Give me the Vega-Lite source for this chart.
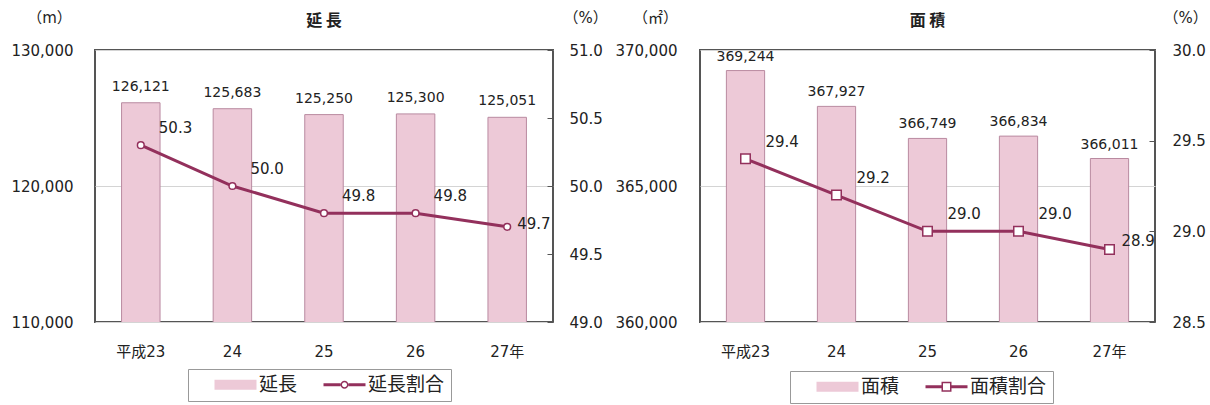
{
  "$schema": "https://vega.github.io/schema/vega-lite/v6.json",
  "padding": {"left": 9, "top": 9, "right": 0, "bottom": 0},
  "spacing": 147,
  "bounds": "flush",
  "datasets": {
    "enchou": [
      {"year": "平成23", "value": 126121, "pct": 50.3},
      {"year": "24", "value": 125683, "pct": 50.0},
      {"year": "25", "value": 125250, "pct": 49.8},
      {"year": "26", "value": 125300, "pct": 49.8},
      {"year": "27年", "value": 125051, "pct": 49.7}
    ],
    "menseki": [
      {"year": "平成23", "value": 369244, "pct": 29.4},
      {"year": "24", "value": 367927, "pct": 29.2},
      {"year": "25", "value": 366749, "pct": 29.0},
      {"year": "26", "value": 366834, "pct": 29.0},
      {"year": "27年", "value": 366011, "pct": 28.9}
    ]
  },
  "config": {
    "font": "DejaVu Sans, Noto Sans CJK JP",
    "view": {"stroke": "#555555", "strokeWidth": 2},
    "axis": {"labelColor": "#222222", "titleColor": "#222222", "labelFontSize": 15, "titleFontSize": 15, "titleFontWeight": "normal"},
    "text": {"color": "#222222"}
  },
  "resolve": {"scale": {"color": "independent", "shape": "independent"}, "legend": {"color": "independent", "shape": "independent"}},
  "hconcat": [
    {
      "width": 458,
      "height": 272,
      "data": {"name": "enchou"},
      "title": {"text": "延 長", "fontSize": 16, "fontWeight": "bold", "anchor": "middle", "frame": "group", "offset": -19, "font": "Noto Sans CJK JP", "color": "#222222"},
      "encoding": {
        "x": {"field": "year", "type": "ordinal", "sort": null,
              "scale": {"paddingInner": 0.58, "paddingOuter": 0.29},
              "axis": {"title": null, "domain": false, "ticks": false, "labelAngle": 0, "labelPadding": 22, "labelFontSize": 15}}
      },
      "layer": [
        {
          "layer": [
            {
              "mark": {"type": "bar", "stroke": "#b98aa0", "strokeWidth": 1, "clip": true},
              "encoding": {
                "y": {"field": "value", "type": "quantitative",
                      "scale": {"domain": [110000, 130000], "zero": false, "nice": false},
                      "axis": {"title": "（m）", "titleAngle": 0, "titleX": -46, "titleY": -33, "titleAlign": "center", "titleBaseline": "middle",
                               "values": [110000, 120000, 130000], "format": ",.0f", "grid": true, "gridColor": "#d4d4d4",
                               "domain": false, "ticks": false, "labelPadding": 22}},
                "color": {"datum": "延長",
                          "scale": {"domain": ["延長", "延長割合"], "range": ["#edc9d7", "#93305c"]},
                          "legend": {"title": null, "orient": "none", "legendX": 93, "legendY": 319, "direction": "horizontal",
                                     "padding": 6, "strokeColor": "#999999", "fillColor": "#ffffff",
                                     "symbolSize": 100, "symbolOpacity": 1, "symbolStrokeWidth": 0, "labelOffset": 46, "columnPadding": 5,
                                     "labelFontSize": 19, "labelFont": "Noto Sans CJK JP", "labelColor": "#222222"}}
              }
            },
            {
              "mark": {"type": "text", "baseline": "middle", "dy": -16, "fontSize": 14},
              "encoding": {
                "y": {"field": "value", "type": "quantitative"},
                "text": {"field": "value", "type": "quantitative", "format": ",.0f"}
              }
            }
          ]
        },
        {
          "layer": [
            {
              "mark": {"type": "line", "strokeWidth": 3, "stroke": "#93305c"},
              "encoding": {
                "y": {"field": "pct", "type": "quantitative",
                      "scale": {"domain": [49, 51], "zero": false, "nice": false},
                      "axis": {"orient": "right", "title": "（%）", "titleAngle": 0, "titleX": 32, "titleY": -33, "titleAlign": "center", "titleBaseline": "middle",
                               "values": [49, 49.5, 50, 50.5, 51], "format": ".1f", "grid": false, "domain": false,
                               "ticks": true, "tickSize": -6, "tickColor": "#555555", "labelPadding": 22}}
              }
            },
            {
              "mark": {"type": "point", "shape": "circle", "filled": true, "fill": "#ffffff", "stroke": "#93305c", "strokeWidth": 1.5, "size": 45, "opacity": 1},
              "encoding": {"y": {"field": "pct", "type": "quantitative"}}
            },
            {
              "transform": [{"filter": "datum.year !== '27年'"}],
              "mark": {"type": "text", "align": "left", "baseline": "middle", "dx": 18, "dy": -17, "fontSize": 15},
              "encoding": {"y": {"field": "pct", "type": "quantitative"}, "text": {"field": "pct", "type": "quantitative", "format": ".1f"}}
            },
            {
              "transform": [{"filter": "datum.year === '27年'"}],
              "mark": {"type": "text", "align": "left", "baseline": "middle", "dx": 10, "dy": -3, "fontSize": 15},
              "encoding": {"y": {"field": "pct", "type": "quantitative"}, "text": {"field": "pct", "type": "quantitative", "format": ".1f"}}
            },
            {
              "transform": [{"filter": "false"}],
              "mark": {"type": "point", "filled": true, "opacity": 1},
              "encoding": {
                "shape": {"datum": "延長",
                          "scale": {"domain": ["延長", "延長割合"],
                                    "range": ["M2.2,-1H10.6V1H2.2Z",
                                              "M2.2,-0.3H5.6V0.3H2.2ZM7.2,-0.3H10.6V0.3H7.2ZM7.2,0A0.8,0.8,0,1,1,5.6,0A0.8,0.8,0,1,1,7.2,0ZM6.9,0A0.5,0.5,0,1,0,5.9,0A0.5,0.5,0,1,0,6.9,0Z"]},
                          "legend": {"title": null, "orient": "none", "legendX": 93, "legendY": 319, "direction": "horizontal",
                                     "padding": 6, "strokeColor": "#999999", "fillColor": "#ffffff",
                                     "symbolSize": 100, "symbolOpacity": 1, "symbolStrokeWidth": 0, "labelOffset": 46, "columnPadding": 5,
                                     "labelFontSize": 19, "labelFont": "Noto Sans CJK JP", "labelColor": "#222222"}}
              }
            }
          ]
        }
      ],
      "resolve": {"scale": {"y": "independent"}}
    },
    {
      "width": 455,
      "height": 272,
      "data": {"name": "menseki"},
      "title": {"text": "面 積", "fontSize": 16, "fontWeight": "bold", "anchor": "middle", "frame": "group", "offset": -19, "font": "Noto Sans CJK JP", "color": "#222222"},
      "encoding": {
        "x": {"field": "year", "type": "ordinal", "sort": null,
              "scale": {"paddingInner": 0.58, "paddingOuter": 0.29},
              "axis": {"title": null, "domain": false, "ticks": false, "labelAngle": 0, "labelPadding": 22, "labelFontSize": 15}}
      },
      "layer": [
        {
          "layer": [
            {
              "mark": {"type": "bar", "stroke": "#b98aa0", "strokeWidth": 1, "clip": true},
              "encoding": {
                "y": {"field": "value", "type": "quantitative",
                      "scale": {"domain": [360000, 370000], "zero": false, "nice": false},
                      "axis": {"title": "（㎡）", "titleAngle": 0, "titleX": -45, "titleY": -33, "titleAlign": "center", "titleBaseline": "middle",
                               "values": [360000, 365000, 370000], "format": ",.0f", "grid": true, "gridColor": "#d4d4d4",
                               "domain": false, "ticks": false, "labelPadding": 23}},
                "color": {"datum": "面積",
                          "scale": {"domain": ["面積", "面積割合"], "range": ["#edc9d7", "#93305c"]},
                          "legend": {"title": null, "orient": "none", "legendX": 90, "legendY": 321, "direction": "horizontal",
                                     "padding": 6, "strokeColor": "#999999", "fillColor": "#ffffff",
                                     "symbolSize": 100, "symbolOpacity": 1, "symbolStrokeWidth": 0, "labelOffset": 46, "columnPadding": 5,
                                     "labelFontSize": 19, "labelFont": "Noto Sans CJK JP", "labelColor": "#222222"}}
              }
            },
            {
              "mark": {"type": "text", "baseline": "middle", "dy": -14, "fontSize": 14},
              "encoding": {
                "y": {"field": "value", "type": "quantitative"},
                "text": {"field": "value", "type": "quantitative", "format": ",.0f"}
              }
            }
          ]
        },
        {
          "layer": [
            {
              "mark": {"type": "line", "strokeWidth": 3, "stroke": "#93305c"},
              "encoding": {
                "y": {"field": "pct", "type": "quantitative",
                      "scale": {"domain": [28.5, 30], "zero": false, "nice": false},
                      "axis": {"orient": "right", "title": "（%）", "titleAngle": 0, "titleX": 30, "titleY": -33, "titleAlign": "center", "titleBaseline": "middle",
                               "values": [28.5, 29, 29.5, 30], "format": ".1f", "grid": false, "domain": false,
                               "ticks": true, "tickSize": -6, "tickColor": "#555555", "labelPadding": 23}}
              }
            },
            {
              "mark": {"type": "point", "shape": "square", "filled": true, "fill": "#ffffff", "stroke": "#93305c", "strokeWidth": 1.5, "size": 90, "opacity": 1},
              "encoding": {"y": {"field": "pct", "type": "quantitative"}}
            },
            {
              "transform": [{"filter": "datum.year !== '27年'"}],
              "mark": {"type": "text", "align": "left", "baseline": "middle", "dx": 20, "dy": -17, "fontSize": 15},
              "encoding": {"y": {"field": "pct", "type": "quantitative"}, "text": {"field": "pct", "type": "quantitative", "format": ".1f"}}
            },
            {
              "transform": [{"filter": "datum.year === '27年'"}],
              "mark": {"type": "text", "align": "left", "baseline": "middle", "dx": 12, "dy": -8, "fontSize": 15},
              "encoding": {"y": {"field": "pct", "type": "quantitative"}, "text": {"field": "pct", "type": "quantitative", "format": ".1f"}}
            },
            {
              "transform": [{"filter": "false"}],
              "mark": {"type": "point", "filled": true, "opacity": 1},
              "encoding": {
                "shape": {"datum": "面積",
                          "scale": {"domain": ["面積", "面積割合"],
                                    "range": ["M2.2,-1H10.6V1H2.2Z",
                                              "M2.2,-0.3H5.4V0.3H2.2ZM7.4,-0.3H10.6V0.3H7.4ZM5.4,-1H7.4V1H5.4ZM5.7,-0.7V0.7H7.1V-0.7Z"]},
                          "legend": {"title": null, "orient": "none", "legendX": 90, "legendY": 321, "direction": "horizontal",
                                     "padding": 6, "strokeColor": "#999999", "fillColor": "#ffffff",
                                     "symbolSize": 100, "symbolOpacity": 1, "symbolStrokeWidth": 0, "labelOffset": 46, "columnPadding": 5,
                                     "labelFontSize": 19, "labelFont": "Noto Sans CJK JP", "labelColor": "#222222"}}
              }
            }
          ]
        }
      ],
      "resolve": {"scale": {"y": "independent"}}
    }
  ]
}
